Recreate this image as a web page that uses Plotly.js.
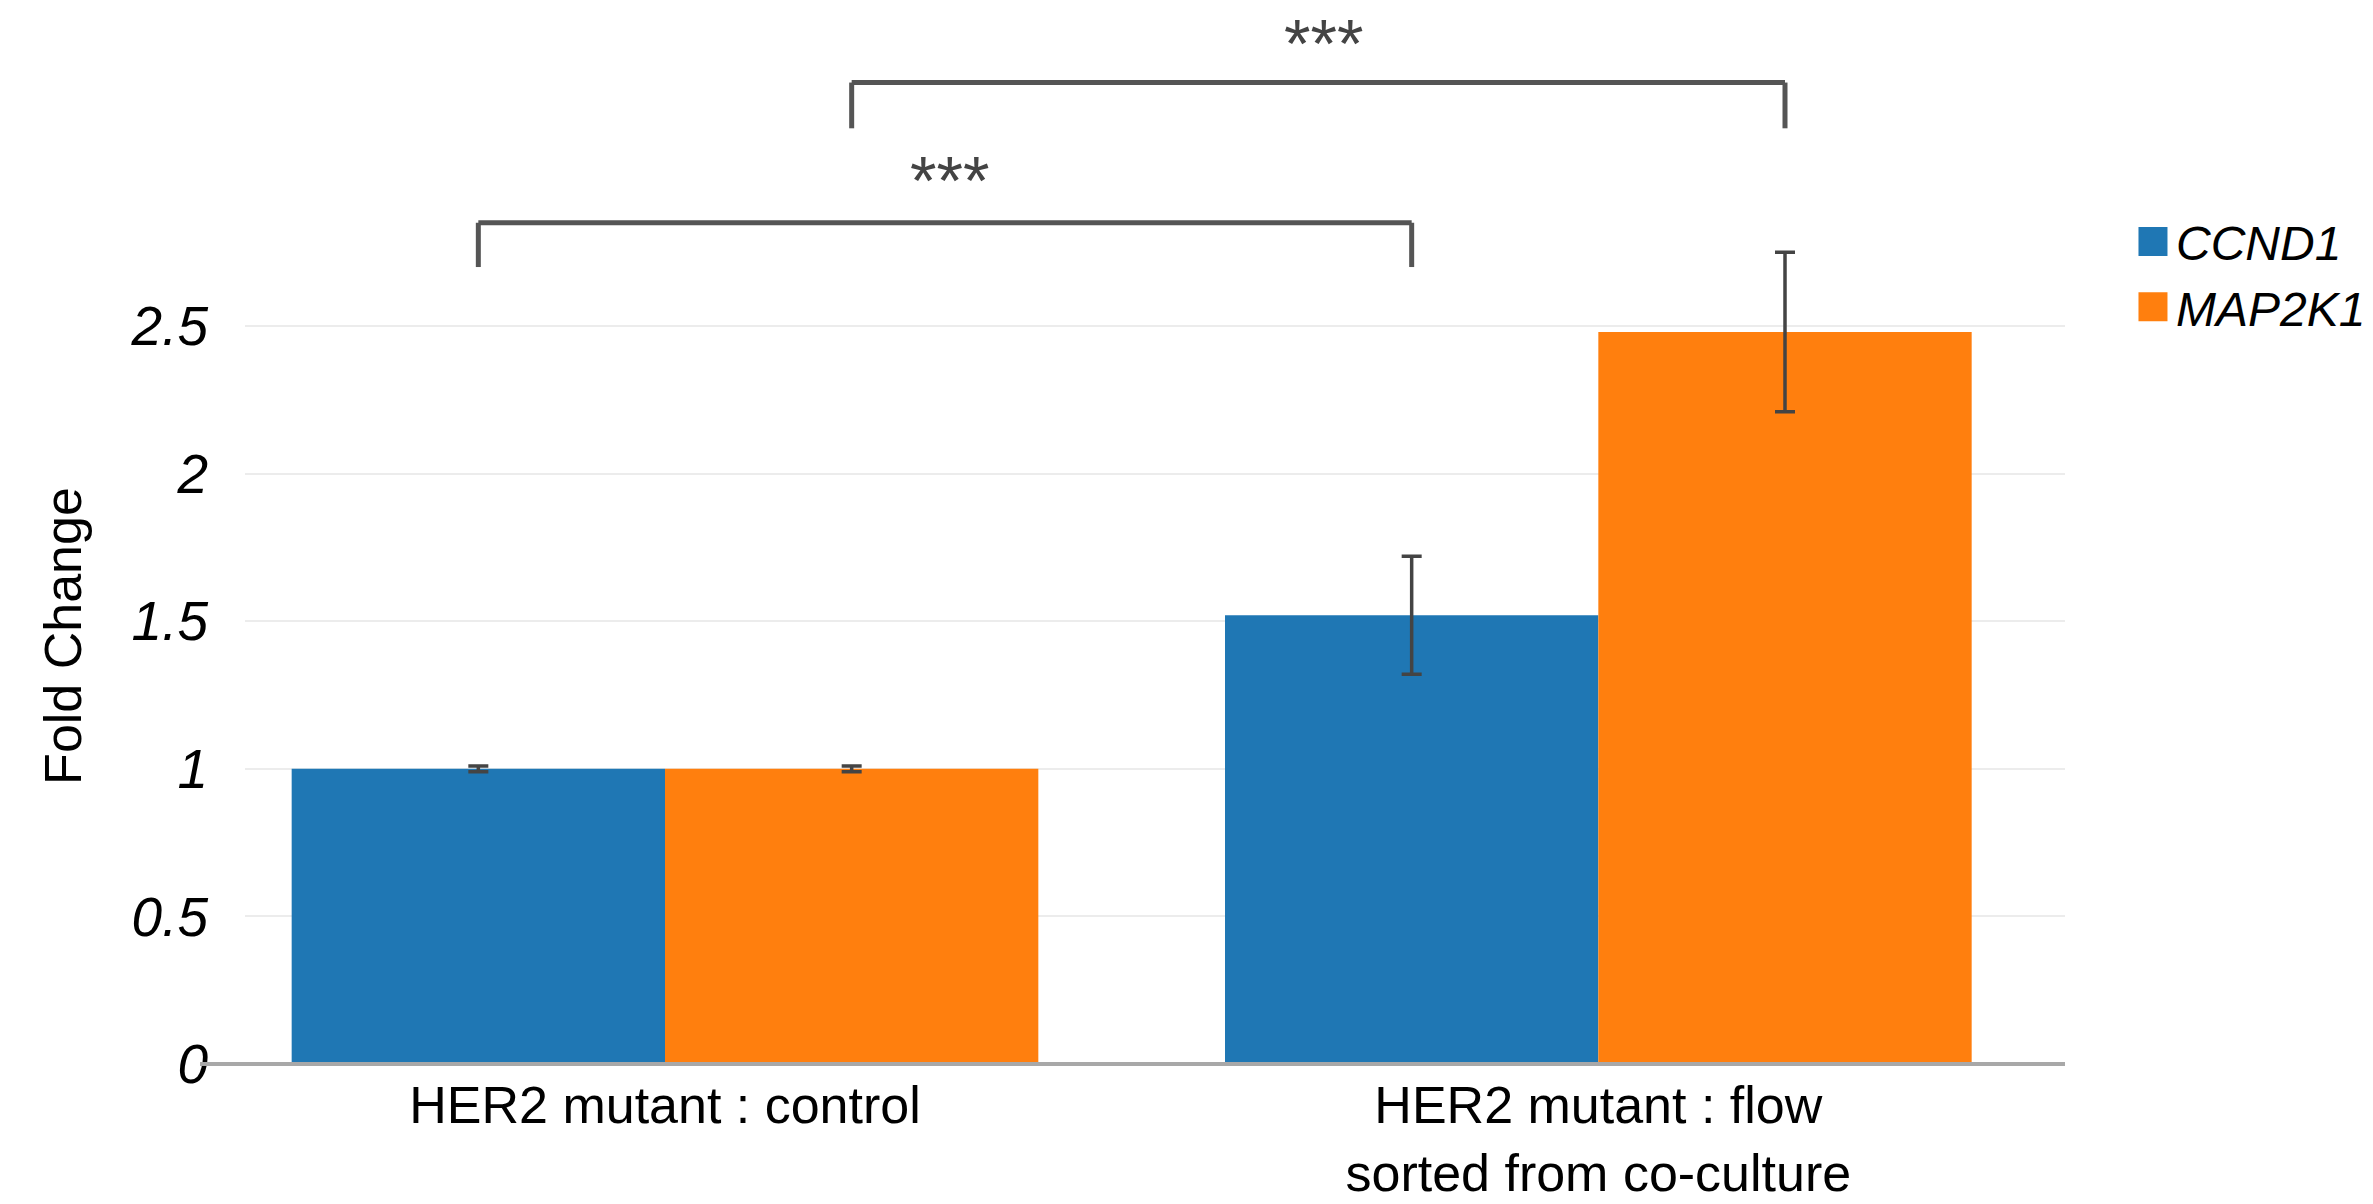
<!DOCTYPE html>
<html><head><meta charset="utf-8">
<script src="https://cdn.plot.ly/plotly-3.0.1.min.js"></script>
<style>
html,body{margin:0;padding:0;background:#fff}
#chart{width:2373px;height:1204px}
#chart .legend .legendpoints path{d:path('M11.5,14.5H-17.5V-14.5H11.5Z') !important}
</style>
</head><body><div id="chart"></div>
<script>
// ---- data ----
const categories = ['HER2 mutant : control', 'HER2 mutant : flow<br>sorted from co-culture'];
const seriesNames = ['CCND1', 'MAP2K1'];
const ccnd1Values = [1.0, 1.52];
const ccnd1Errors = [0.01, 0.20];
const map2k1Values = [1.0, 2.48];
const map2k1Errors = [0.01, 0.27];
const yTickValues = [0, 0.5, 1, 1.5, 2, 2.5];
const yTickLabels = ['0', '0.5', '1', '1.5', '2', '2.5'];
// significance comparisons: same gene, control vs sorted
const compGene = [0, 1];
const compLabels = ['***', '***'];

// ---- layout constants ----
const yMax = 2.9;
const bracketLevel = [2.85, 3.325];
const bracketLeg = [2.70, 3.17];
const starLevel = [2.995, 3.458];
const barOffset = [-0.2, 0.2];
const colors = ['#1f77b4', '#ff7f0e'];
const font = 'Liberation Sans, Arial, Helvetica, sans-serif';

const errStyle = {type: 'data', visible: true, color: '#444', thickness: 3.5, width: 10};
const traces = [
  {type: 'bar', name: seriesNames[0], x: categories, y: ccnd1Values,
   error_y: Object.assign({array: ccnd1Errors}, errStyle), marker: {color: colors[0]}},
  {type: 'bar', name: seriesNames[1], x: categories, y: map2k1Values,
   error_y: Object.assign({array: map2k1Errors}, errStyle), marker: {color: colors[1]}}
];

const shapes = [];
const annotations = [];
const toPaper = v => v / yMax;
compGene.forEach((g, i) => {
  const x0 = 0 + barOffset[g];
  const x1 = 1 + barOffset[g];
  const line = {color: '#555555', width: 5};
  shapes.push({type: 'line', xref: 'x', yref: 'paper', x0: x0, x1: x1, y0: toPaper(bracketLevel[i]), y1: toPaper(bracketLevel[i]), line: line});
  shapes.push({type: 'line', xref: 'x', yref: 'paper', x0: x0, x1: x0, y0: toPaper(bracketLevel[i]), y1: toPaper(bracketLeg[i]), line: line});
  shapes.push({type: 'line', xref: 'x', yref: 'paper', x0: x1, x1: x1, y0: toPaper(bracketLevel[i]), y1: toPaper(bracketLeg[i]), line: line});
  annotations.push({xref: 'x', yref: 'paper', x: (x0 + x1) / 2 + 0.005, y: toPaper(starLevel[i]),
    text: compLabels[i], showarrow: false, xanchor: 'center', yanchor: 'middle',
    font: {family: font, size: 68, color: '#444'}});
});
// baseline axis line extending slightly left of the plot area
shapes.push({type: 'line', xref: 'paper', yref: 'paper', x0: -0.0247, x1: 1, y0: 0, y1: 0,
  line: {color: '#a8a8a8', width: 4}, layer: 'above'});

const layout = {
  width: 2373, height: 1204,
  margin: {l: 245, r: 308, t: 208, b: 140, autoexpand: false},
  paper_bgcolor: '#fff', plot_bgcolor: '#fff',
  font: {family: font, color: '#000'},
  barmode: 'group', bargap: 0.2, bargroupgap: 0,
  showlegend: true,
  legend: {x: 1.039, xanchor: 'left', y: 1.005, yanchor: 'top', font: {family: font, size: 48, style: 'italic', color: '#000'}, tracegroupgap: 0},
  xaxis: {type: 'category', range: [-0.45, 1.5], showgrid: false, zeroline: false, showline: false, ticks: '',
    tickfont: {family: font, size: 52, color: '#000'}, ticklabelstandoff: 6, automargin: false},
  yaxis: {range: [0, yMax], tickmode: 'array', tickvals: yTickValues, ticktext: yTickLabels,
    showgrid: true, gridcolor: '#ececec', gridwidth: 2, zeroline: false, showline: false, ticks: '',
    tickfont: {family: font, size: 55, style: 'italic', color: '#000'}, ticklabelstandoff: 36, automargin: false,
    title: {text: 'Fold Change', font: {family: font, size: 52, color: '#000'}, standoff: 32}},
  shapes: shapes,
  annotations: annotations
};

Plotly.newPlot('chart', traces, layout, {displayModeBar: false, staticPlot: true});
</script>
</body></html>
